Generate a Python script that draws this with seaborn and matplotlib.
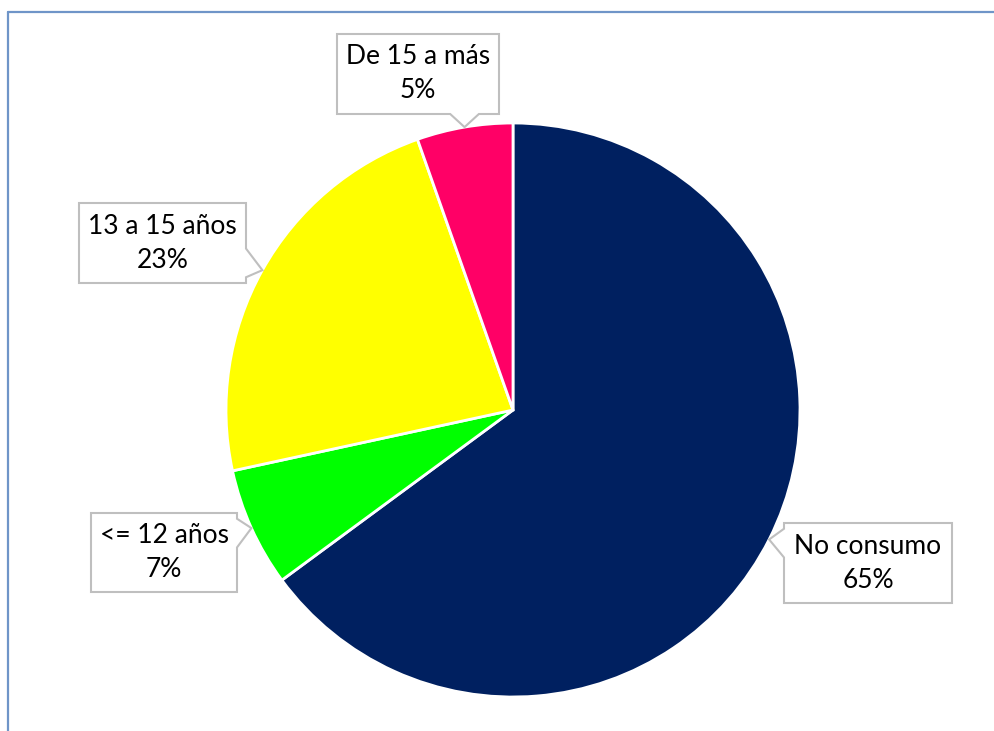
import numpy as np
import seaborn as sns
import matplotlib.pyplot as plt
from matplotlib.patches import Polygon
from matplotlib.lines import Line2D

# data
categorias = ['No consumo', '<= 12 años', '13 a 15 años', 'De 15 a más']
valores = [64.9, 6.7, 23.0, 5.4]
colores = ['#002060', '#00FF00', '#FFFF00', '#FF0066']

sns.set_theme(style="white")
plt.rcParams['font.family'] = ['Lato', 'DejaVu Sans']

W, H = 994, 731
CX, CY, R = 513, 410, 287  # pie centre / radius in pixels


def px(x, y):
    # pixel position -> data coords (pie radius = 1)
    return (x - CX) / R, (CY - y) / R


fig = plt.figure(figsize=(W / 100, H / 100), dpi=100)
ax = fig.add_axes([0, 0, 1, 1])

wedges, _ = ax.pie(valores, colors=colores, startangle=90, counterclock=False,
                   radius=1, wedgeprops=dict(edgecolor='white', linewidth=2))

# pie() resets limits/aspect, so fix them afterwards
ax.set_aspect('auto')
ax.set_xlim(px(0, 0)[0], px(W, 0)[0])
ax.set_ylim(px(0, H)[1], px(0, 0)[1])
ax.axis('off')

# callout boxes: (left, top, right, bottom) in pixels, side where the pointer leaves
cajas = {
    'No consumo': ((784, 523, 952, 603), 'left'),
    '<= 12 años': ((91, 513, 237, 592), 'right'),
    '13 a 15 años': ((79, 203, 246, 283), 'right'),
    'De 15 a más': ((337, 34, 499, 114), 'bottom'),
}


def callout(box, side, tip, w=0.05):
    x0, y0 = px(box[0], box[1])
    x1, y1 = px(box[2], box[3])
    tx, ty = tip
    m = 0.02
    if side in ('left', 'right'):
        c = np.clip(ty, y1 + w + m, y0 - w - m)
        xs = x0 if side == 'left' else x1
        notch = [(xs, c + w), (tx, ty), (xs, c - w)]
        if side == 'right':
            pts = [(x0, y0), (x1, y0)] + notch + [(x1, y1), (x0, y1)]
        else:
            pts = [(x0, y0), (x1, y0), (x1, y1), (x0, y1)] + notch[::-1]
    else:
        c = np.clip(tx, x0 + w + m, x1 - w - m)
        notch = [(c + w, y1), (tx, ty), (c - w, y1)]
        pts = [(x0, y0), (x1, y0), (x1, y1)] + notch + [(x0, y1)]
    return Polygon(pts, closed=True, facecolor='white', edgecolor='#BFBFBF',
                   linewidth=1.5, zorder=5), ((x0 + x1) / 2, (y0 + y1) / 2)


for wedge, nombre, v in zip(wedges, categorias, valores):
    ang = np.deg2rad((wedge.theta1 + wedge.theta2) / 2)
    tip = (np.cos(ang) * 1.0, np.sin(ang) * 1.0)
    box, side = cajas[nombre]
    poly, centro = callout(box, side, tip)
    ax.add_patch(poly)
    ax.text(centro[0], centro[1], f"{nombre}\n{v:.0f}%", ha='center', va='center',
            fontsize=19, color='black', linespacing=1.45, zorder=6)

# outer chart frame (left and top edges visible)
fig.add_artist(Line2D([8 / W, 8 / W], [0, 1 - 12 / H], transform=fig.transFigure,
                      color='#6F95C8', linewidth=1.6))
fig.add_artist(Line2D([8 / W, 1], [1 - 12 / H, 1 - 12 / H], transform=fig.transFigure,
                      color='#6F95C8', linewidth=1.6))

fig.savefig('out.png', dpi=100, facecolor='white')
